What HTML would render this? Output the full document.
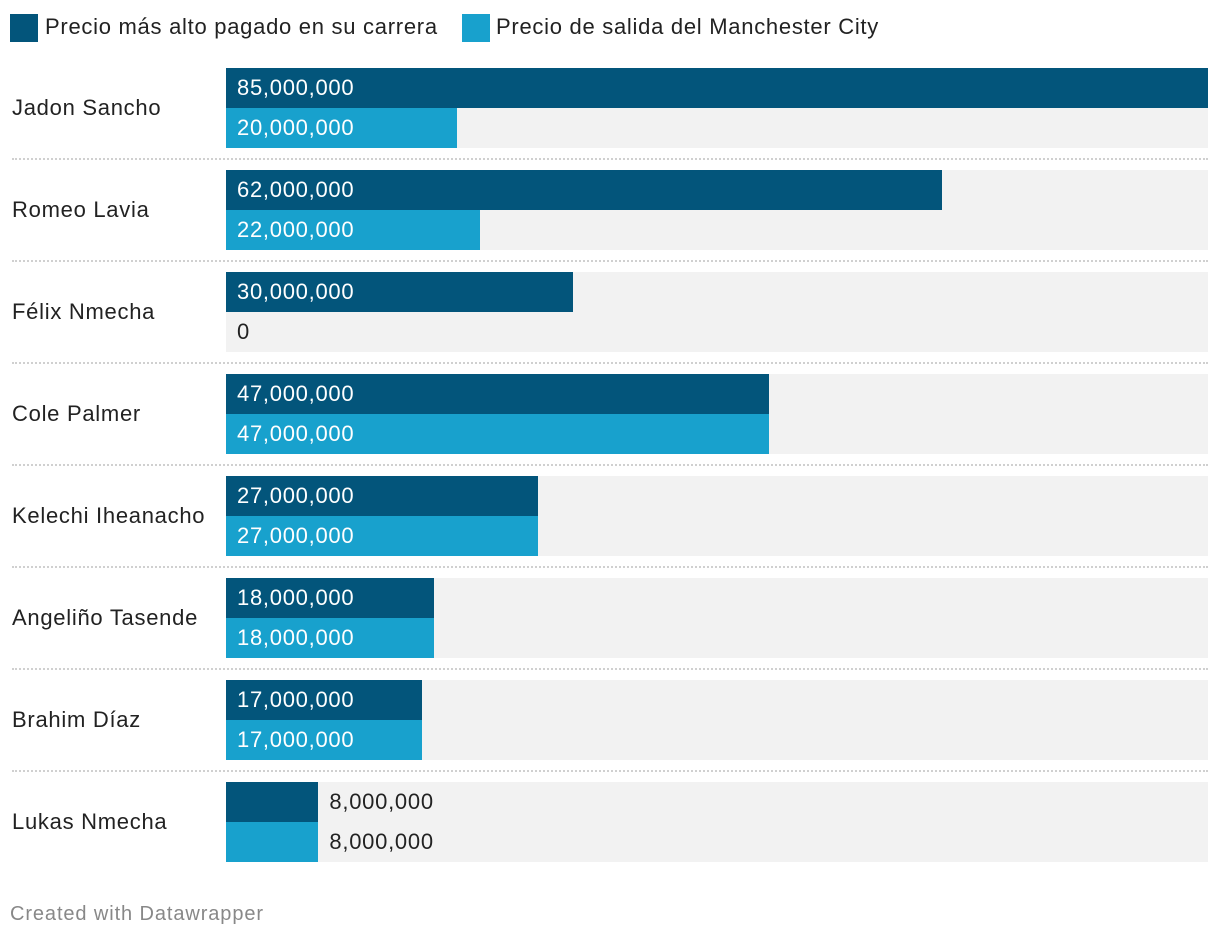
<!DOCTYPE html>
<html><head><meta charset="utf-8"><style>
body{margin:0;width:1220px;height:940px;background:#fff;font-family:"Liberation Sans",sans-serif;overflow:hidden;position:relative;letter-spacing:0.72px}
.abs{position:absolute}
.leg{position:absolute;top:14px;width:28px;height:28px}
.lt{position:absolute;top:12px;font-size:22px;color:#222;line-height:30px}
</style></head><body>
<div class="leg" style="left:10px;background:#03557b"></div>
<div class="lt" style="left:45px">Precio más alto pagado en su carrera</div>
<div class="leg" style="left:462px;background:#18a1cd"></div>
<div class="lt" style="left:496px">Precio de salida del Manchester City</div>
<div id="chart"></div>
<div class="abs" style="left:10px;top:903px;font-size:20px;color:#888;letter-spacing:0.9px">Created with Datawrapper</div>
<script>
const players=["Jadon Sancho","Romeo Lavia","Félix Nmecha","Cole Palmer","Kelechi Iheanacho","Angeliño Tasende","Brahim Díaz","Lukas Nmecha"];
const highest=[85000000,62000000,30000000,47000000,27000000,18000000,17000000,8000000];
const city=[20000000,22000000,0,47000000,27000000,18000000,17000000,8000000];
const maxVal=85000000;
const X0=226,W=982,TOP=68,PITCH=102,BH=40;
const x=v=>v/maxVal*W;
const chart=document.getElementById('chart');
function mk(style,text){const d=document.createElement('div');d.className='abs';d.style.cssText=style;if(text!==undefined)d.textContent=text;chart.appendChild(d);return d;}
players.forEach((p,i)=>{
  const y=TOP+i*PITCH;
  const lab=mk(`left:12px;top:${y}px;height:80px;line-height:80px;font-size:22px;color:#222`,p);
  
  
  const bg=mk(`left:${X0}px;top:${y}px;width:${W}px;height:80px;background:#f2f2f2`);
  
  
  [[highest[i],'#03557b',0],[city[i],'#18a1cd',1]].forEach(([v,c,k])=>{
    const w=x(v);
    const b=mk(`left:${X0}px;top:${y+k*BH}px;width:${w}px;height:${BH}px;background:${c}`);
    
    
    const txt=v.toLocaleString('en-US');
    const inside=w>140;
    const lx=inside?X0+11:(v===0?X0+11:X0+w+11);
    const t=mk(`left:${lx}px;top:${y+k*BH}px;line-height:${BH}px;font-size:22px;color:${inside?'#fff':'#222'}`,txt);
    
    
  });
  if(i<players.length-1){
    const s=mk(`left:12px;top:${y+90}px;width:1196px;height:0;border-top:2px dotted #d0d0d0`);
    
    
  }
});
</script>
</body></html>
